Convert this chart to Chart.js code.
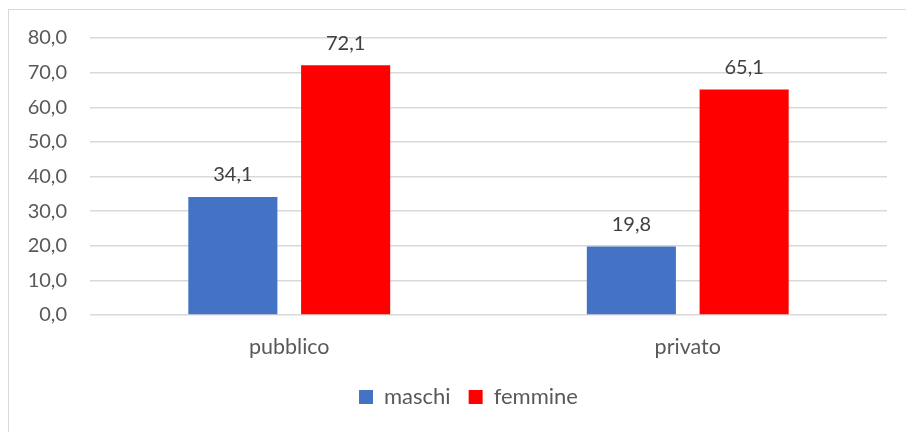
<!DOCTYPE html>
<html>
<head>
<meta charset="utf-8">
<script src="https://cdn.jsdelivr.net/npm/chart.js@4"></script>
<style>
    html, body { margin: 0; padding: 0; background: #fff; overflow: hidden; }
    #wrap { position: relative; width: 906px; height: 432px; }
    #frame { position: absolute; left: 8px; top: 9px; width: 920px; height: 450px; border: 1px solid #d9d9d9; box-sizing: border-box; pointer-events: none; }
</style>
</head>
<body>
<div id="wrap">
    <canvas id="chart" width="906" height="432"></canvas>
    <div id="frame"></div>
</div>
<script>

const categories = ["pubblico", "privato"];

const maschi = [34.1, 19.8];

const femmine = [72.1, 65.1];

const yTicks = [0, 10, 20, 30, 40, 50, 60, 70, 80];

const textColor = "#595959";

function fmt(v) {
    return v.toFixed(1).replace(".", ",");
}

const valueLabels = {
    id: "valueLabels",
    afterDatasetsDraw(chart) {
        const ctx = chart.ctx;
        ctx.save();
        ctx.font = "20px Lato";
        ctx.fillStyle = "#404040";
        ctx.textAlign = "center";
        ctx.textBaseline = "middle";
        chart.data.datasets.forEach((ds, i) => {
            chart.getDatasetMeta(i).data.forEach((bar, j) => {
                ctx.fillText(fmt(ds.data[j]), bar.x, bar.y - 22);
            });
        });
        ctx.restore();
    }
};

// the legend sits centred on the whole frame, not on the plot
const legendShift = {
    id: "legendShift",
    afterLayout(chart) {
        chart.legend.left += 25;
        chart.legend.right += 25;
    }
};

Chart.defaults.font.family = "Lato";
Chart.defaults.font.size = 20;
Chart.defaults.color = textColor;

new Chart(document.getElementById("chart"), {
    type: "bar",
    data: {
        labels: categories,
        datasets: [
            {
                label: "maschi",
                data: maschi,
                backgroundColor: "#4472C4"
            },
            {
                label: "femmine",
                data: femmine,
                backgroundColor: "#FF0000"
            }
        ]
    },
    options: {
        responsive: false,
        animation: false,
        devicePixelRatio: 1,
        categoryPercentage: 0.566,
        barPercentage: 0.79,
        layout: {
            padding: { top: 38, right: 19, left: 0, bottom: 14 }
        },
        plugins: {
            legend: {
                position: "bottom",
                labels: {
                    boxWidth: 14,
                    boxHeight: 14,
                    padding: 18,
                    color: textColor,
                    font: { size: 22 }
                }
            },
            tooltip: { enabled: false }
        },
        scales: {
            x: {
                grid: { display: false, drawTicks: false },
                border: { display: false },
                ticks: { padding: 19, color: textColor, font: { size: 21.5 } },
                afterFit(scale) {
                    scale.height = 53;
                }
            },
            y: {
                min: 0,
                max: 80,
                afterBuildTicks(scale) {
                    scale.ticks = yTicks.map(v => ({ value: v }));
                },
                grid: { color: "#d9d9d9", lineWidth: 1.5, drawTicks: false },
                border: { display: false },
                ticks: {
                    padding: 23,
                    color: textColor,
                    callback: v => fmt(v)
                },
                afterFit(scale) {
                    scale.width = 90;
                }
            }
        }
    },
    plugins: [valueLabels, legendShift]
});

</script>
</body>
</html>
